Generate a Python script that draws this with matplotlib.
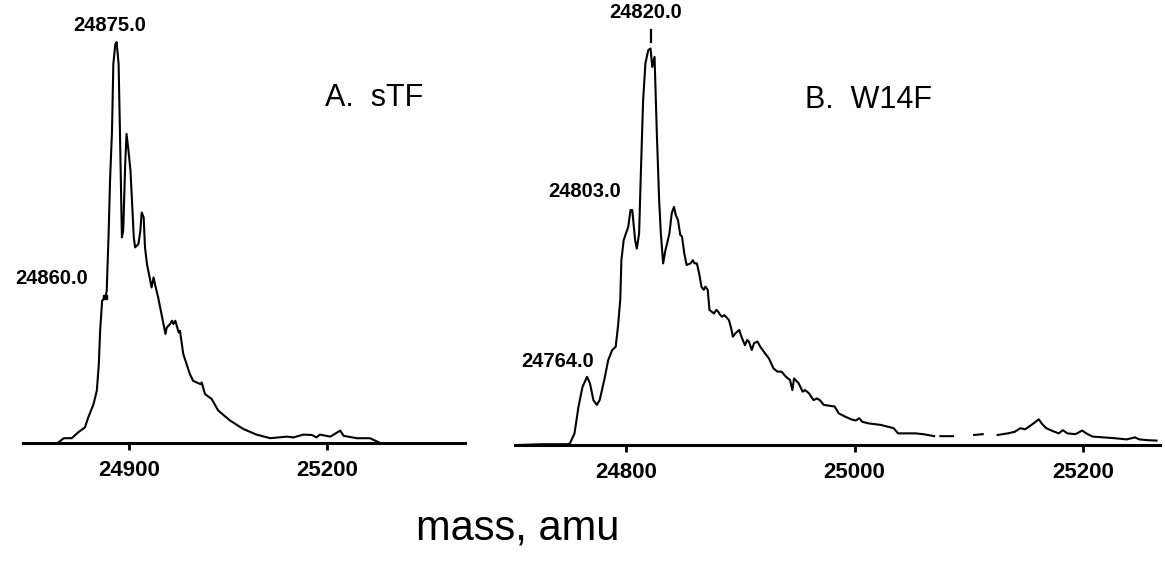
#!/usr/bin/env python3
# Deconvoluted ESI mass spectra of sTF and the W14F mutant

import matplotlib
matplotlib.use("Agg")
import matplotlib.pyplot as plt
import numpy as np

plt.rcParams['font.family'] = ['Liberation Sans', 'DejaVu Sans']

# Panel A: sTF (mass in amu, relative intensity)
mass_a = [24793, 24801, 24813, 24823, 24833, 24838, 24846, 24851, 24854, 24856,
          24859, 24864, 24866, 24869, 24871, 24874, 24876, 24879, 24881, 24884,
          24886, 24889, 24891, 24894, 24896, 24899, 24902, 24904, 24907, 24909,
          24914, 24917, 24919, 24922, 24924, 24927, 24932, 24934, 24937, 24939,
          24944, 24947, 24952, 24955, 24957, 24962, 24965, 24967, 24970, 24975,
          24977, 24982, 24987, 24992, 24997, 25008, 25010, 25015, 25025, 25035,
          25053, 25073, 25093, 25114, 25139, 25149, 25164, 25177, 25184, 25189,
          25205, 25220, 25225, 25245, 25265, 25278]
int_a = [0.2, 1.2, 1.2, 2.7, 3.9, 6.4, 9.7, 13.1, 19.7, 28.0,
         35.5, 36.3, 38.0, 53.0, 65.4, 77.9, 94.5, 99.5, 100.0, 94.5,
         77.9, 51.3, 53.0, 69.6, 77.1, 72.9, 67.9, 61.3, 51.3, 48.8,
         49.6, 53.0, 57.5, 56.3, 48.8, 44.6, 40.5, 38.8, 41.3, 39.7,
         36.3, 33.8, 29.7, 27.2, 28.8, 29.7, 30.5, 29.7, 30.5, 27.6,
         28.0, 22.2, 19.7, 17.2, 15.5, 14.7, 15.1, 12.2, 11.0, 8.1,
         5.6, 3.5, 2.1, 1.2, 1.6, 1.4, 2.1, 2.0, 1.4, 2.1,
         1.6, 3.1, 1.8, 1.2, 1.2, 0.2]

# Panel B: W14F (nan marks the breaks in the trace)
mass_b = [24705, 24727, 24749, 24751, 24755, 24758.5, 24762, 24766, 24768.5, 24771.5,
          24774.5, 24777, 24781, 24784.5, 24788, 24791, 24793, 24795, 24796, 24798,
          24800, 24802, 24804, 24805.5, 24808, 24809.5, 24811.5, 24813, 24815, 24817,
          24819.5, 24821.5, 24823, 24825, 24827, 24829, 24830.5, 24832.5, 24834.5, 24836,
          24838, 24840, 24842, 24843.5, 24845.5, 24847.5, 24849, 24851, 24853, 24856.5,
          24858.5, 24860, 24862, 24864, 24866, 24868, 24869.5, 24871.5, 24873, 24877,
          24879, 24880.5, 24882.5, 24884, 24886, 24890, 24892, 24893.5, 24895.5, 24899,
          24901, 24904, 24906, 24907.5, 24910, 24912, 24915, 24917.5, 24921.5, 24925,
          24929, 24932.5, 24936, 24940, 24943.5, 24945.5, 24947, 24951, 24954.5, 24956.5,
          24960, 24964, 24967, 24969.5, 24973, 24982.5, 24986, 24991.5, 24997, 25001,
          25004, 25006.5, 25012, 25023, 25034, 25038, 25053, 25060, 25069.5, 25072,
          25075, 25086, 25095, 25104.5, 25112, 25118, 25125, 25134, 25140, 25145,
          25149, 25152.5, 25156.5, 25161, 25164, 25167.5, 25173, 25178.5, 25182, 25186,
          25193, 25199, 25202.5, 25208, 25227, 25238, 25245, 25249, 25256, 25264]
int_b = [0.0, 0.2, 0.2, 0.4, 2.9, 9.6, 14.5, 17.0, 15.4, 11.2,
         10.0, 11.2, 16.2, 21.2, 23.7, 24.5, 29.5, 36.2, 46.1, 51.1,
         52.8, 54.4, 58.6, 58.6, 51.1, 49.0, 52.8, 67.7, 86.0, 95.2,
         98.5, 98.9, 94.3, 96.8, 77.7, 61.1, 52.8, 45.3, 48.6, 50.3,
         52.8, 57.8, 59.4, 57.4, 56.1, 52.4, 52.0, 47.8, 44.9, 45.3,
         46.1, 45.3, 45.3, 42.8, 39.5, 38.7, 39.5, 38.7, 33.7, 32.8,
         33.7, 33.3, 32.4, 32.0, 32.4, 31.2, 29.1, 27.0, 27.8, 28.7,
         27.0, 24.9, 26.2, 25.8, 23.7, 25.4, 25.8, 24.5, 22.9, 21.6,
         19.1, 18.3, 18.3, 17.0, 16.2, 13.7, 16.6, 15.4, 13.3, 13.7,
         12.9, 11.2, 11.6, 11.2, 10.0, 9.6, 7.9, 7.1, 6.4, 6.1,
         6.7, 5.8, 5.4, 5.0, 4.2, 2.9, 2.9, 2.7, 2.2, np.nan,
         2.2, 2.2, np.nan, 2.5, 2.7, np.nan, 2.5, 2.9, 3.3, 4.2,
         3.9, 4.6, 5.4, 6.4, 5.2, 4.2, 3.5, 2.9, 3.7, 2.9,
         2.7, 3.6, 2.9, 2.1, 1.7, 1.4, 1.9, 1.4, 1.2, 1.1]

ticks_a = [24900, 25200]
ticks_b = [24800, 25000, 25200]

# labelled peaks: (text, mass, intensity where the label sits)
peaks_a = [("24875.0", 24871, 104.2), ("24860.0", 24782, 41.1)]
peaks_b = [("24820.0", 24817, 108.0), ("24803.0", 24764, 63.3), ("24764.0", 24740, 20.9)]

fig = plt.figure(figsize=(11.65, 5.63), dpi=100)
ax_a = fig.add_axes((0.0197, 0.2131, 0.3794, 0.7869))
ax_b = fig.add_axes((0.4421, 0.2096, 0.5536, 0.7904))

panels = [
    (ax_a, mass_a, int_a, ticks_a, peaks_a, (24739, 25409), 110.5, "A.  sTF", (0.683, 0.779)),
    (ax_b, mass_b, int_b, ticks_b, peaks_b, (24703, 25267), 111.0, "B.  W14F", (0.45, 0.775)),
]

for ax, m, y, ticks, peaks, xlim, ytop, title, tpos in panels:
    ax.plot(m, y, color='black', lw=1.5)
    ax.set_xlim(*xlim)
    ax.set_ylim(0, ytop)
    for side in ('top', 'left', 'right'):
        ax.spines[side].set_visible(False)
    ax.spines['bottom'].set_linewidth(2.2)
    ax.set_yticks([])
    ax.set_xticks(ticks)
    ax.tick_params(axis='x', direction='out', length=5, width=2, pad=7, labelsize=16)
    for lab in ax.get_xticklabels():
        lab.set_fontweight('bold')
    for txt, px, py in peaks:
        ax.text(px, py, txt, ha='center', va='center', fontsize=14.5, fontweight='bold')
    ax.text(tpos[0], tpos[1], title, transform=ax.transAxes, ha='left', va='center', fontsize=22)

# small peak markers drawn in the original trace
ax_a.plot([24864], [36.3], marker='s', ms=3.5, color='black')
ax_b.plot([24821.5, 24821.5], [100.5, 103.5], color='black', lw=1.6)

fig.text(0.444, 0.041, "mass, amu", ha='center', va='baseline', fontsize=30)

fig.savefig("out.png", dpi=100)
